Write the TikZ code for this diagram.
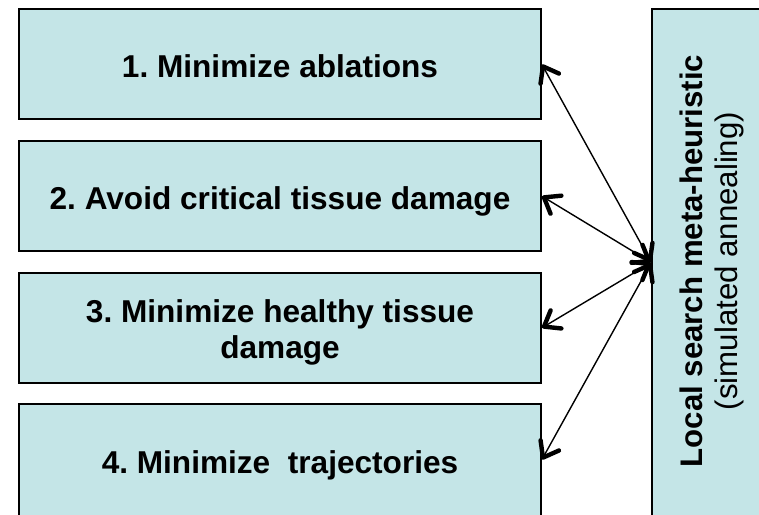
\documentclass[tikz,border=0pt]{standalone}
\usepackage{fontspec}
\setmainfont{Liberation Sans}
\usetikzlibrary{arrows.meta}
\definecolor{boxfill}{RGB}{196,229,231}
\frenchspacing
\newcommand{\oneline}[1]{\raisebox{0pt}[27pt][0pt]{#1}}
\newcommand{\twolines}[2]{\raisebox{0pt}[0pt][12pt]{\parbox[t]{510pt}{\centering #1\\#2}}}
\tikzset{
  goalbox/.style={draw=black, line width=1.3pt, fill=boxfill, rectangle,
    minimum width=522pt, inner sep=0pt, align=center,
    font=\bfseries\fontsize{31.6}{36.5}\selectfont},
  barb/.tip={Straight Barb[length=14pt, width=21pt, line width=4.4pt, round]},
  link/.style={line width=1.4pt, black, barb-barb, shorten <=0.5pt, shorten >=0.5pt},
  rottext/.style={rotate=90, anchor=base, inner sep=0pt, font=\fontsize{31.2}{36}\selectfont}
}
\begin{document}
\begin{tikzpicture}[x=1pt, y=-1pt]
\useasboundingbox (0,0) rectangle (759,514);
\fill[white] (0,0) rectangle (759,514);
\clip (0,0) rectangle (759,514);
\node[goalbox, minimum height=110pt] (b1) at (280,64) {\oneline{1. Minimize ablations}};
\node[goalbox, minimum height=110pt] (b2) at (280,196) {\oneline{2. Avoid critical tissue damage}};
\node[goalbox, minimum height=110pt] (b3) at (280,328) {\twolines{3. Minimize healthy tissue}{damage}};
\node[goalbox, minimum height=112pt] (b4) at (280,460) {\oneline{4. Minimize\ \ trajectories}};
\node[draw=black, line width=1.3pt, fill=boxfill, rectangle, inner sep=0pt,
      minimum width=116pt, minimum height=507pt] (R) at (710,262.5) {};
\node[rottext] (rt1) at (702,261) {\bfseries Local search meta-heuristic};
\node[rottext] (rt2) at (737,261) {(simulated annealing)};
\draw[link] (b1.east) -- (R.west);
\draw[link] (b2.east) -- (R.west);
\draw[link] (b3.east) -- (R.west);
\draw[link] (b4.east) -- (R.west);
\end{tikzpicture}
\end{document}
